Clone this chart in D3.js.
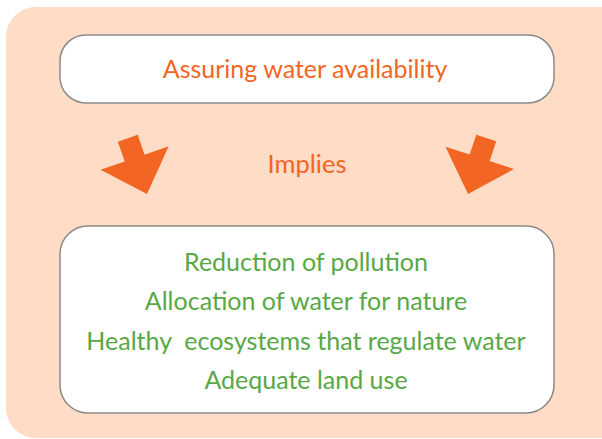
<!DOCTYPE html>
<html>
<head>
<meta charset="utf-8">
<script src="https://cdn.jsdelivr.net/npm/d3@7"></script>
<style>
  html, body { margin: 0; padding: 0; background: #fff; }
  svg { display: block; }
  text { font-family: Lato, "Open Sans", sans-serif; }
</style>
</head>
<body>
<div id="demo"><svg width="602" height="439"></svg></div>
<script>
// content of the diagram
var headline = 'Assuring water availability',
    connector = 'Implies',
    outcomes = [
      'Reduction of pollution',
      'Allocation of water for nature',
      'Healthy  ecosystems that regulate water',
      'Adequate land use'
    ],
    // arrow tilt in degrees (left one leans right, right one leans left)
    arrowTilts = [-19, 18];

(function() {
  // general setup
  var svg = d3.select('div#demo svg'),
      width = 602,
      height = 439,
      orange = '#f26522',
      green = '#58a846',
      peach = '#fedcc6',
      edge = '#8a8a8a',
      inner = {x0: 60, x1: 554},
      cx = (inner.x0 + inner.x1) / 2,
      y = d3.scaleLinear().domain([0, outcomes.length - 1]).range([271, 389]),
      arrowX = d3.scalePoint().domain([0, 1]).range([147, 468]),
      wrapper;

  // peach background panel, running off the right edge
  svg.append('rect')
    .attr('x', 6).attr('y', 7)
    .attr('width', width - 6 + 30).attr('height', height - 7 - 1)
    .attr('rx', 30).attr('ry', 30)
    .attr('fill', peach);

  wrapper = svg.append('g').classed('wrapper', true);

  // top rounded box
  wrapper.append('rect')
    .attr('x', inner.x0).attr('y', 35)
    .attr('width', inner.x1 - inner.x0).attr('height', 68)
    .attr('rx', 26).attr('ry', 26)
    .attr('fill', '#fff')
    .attr('stroke', edge).attr('stroke-width', 1.5);

  wrapper.append('text')
    .attr('x', cx - 2).attr('y', 78)
    .attr('text-anchor', 'middle')
    .attr('font-size', 25)
    .attr('fill', orange)
    .text(headline);

  // "Implies" between the two arrows
  wrapper.append('text')
    .attr('x', cx).attr('y', 173)
    .attr('text-anchor', 'middle')
    .attr('font-size', 25.5)
    .attr('fill', orange)
    .text(connector);

  // block arrows, drawn pointing down from the tip and then rotated
  var arrowShape = 'M0,0 L36,-38 L10.5,-38 L10.5,-59 L-10.5,-59 L-10.5,-38 L-36,-38 Z';
  wrapper.selectAll('path.arrow')
    .data(arrowTilts)
    .join('path')
    .classed('arrow', true)
    .attr('d', arrowShape)
    .attr('transform', function(d, i) {
      return 'translate(' + arrowX(i) + ',194) rotate(' + d + ')';
    })
    .attr('fill', orange);

  // bottom rounded box
  wrapper.append('rect')
    .attr('x', inner.x0).attr('y', 226)
    .attr('width', inner.x1 - inner.x0).attr('height', 187)
    .attr('rx', 28).attr('ry', 28)
    .attr('fill', '#fff')
    .attr('stroke', edge).attr('stroke-width', 1.5);

  wrapper.selectAll('text.outcome')
    .data(outcomes)
    .join('text')
    .classed('outcome', true)
    .attr('x', cx - 1)
    .attr('y', function(d, i) { return y(i); })
    .attr('text-anchor', 'middle')
    .attr('font-size', 25)
    .attr('fill', green)
    .style('white-space', 'pre')
    .text(function(d) { return d; });
}).call(this);
</script>
</body>
</html>
